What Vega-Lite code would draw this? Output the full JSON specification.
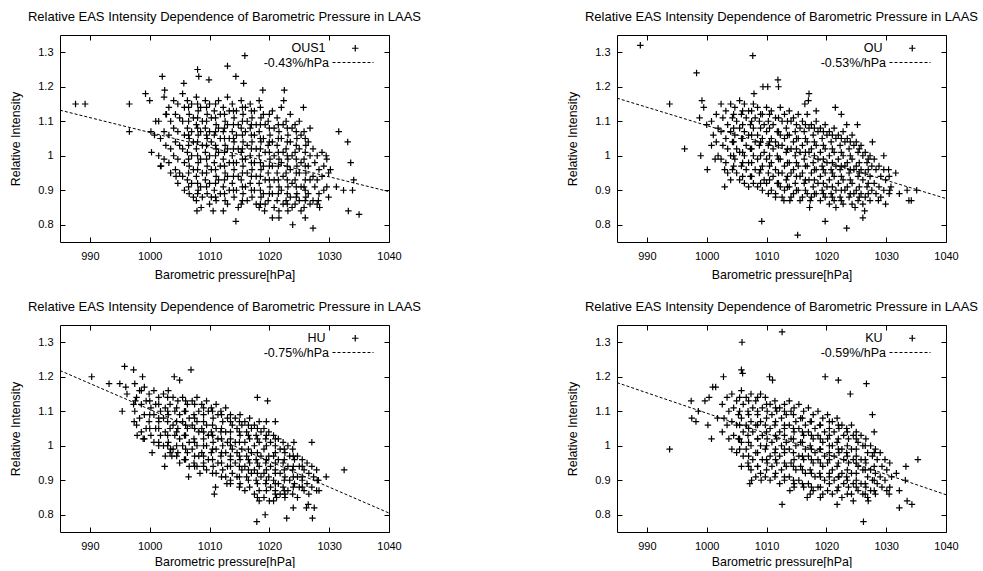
{
"$schema":"https://vega.github.io/schema/vega-lite/v6.json",
"padding":{"left":9,"top":10,"right":0,"bottom":0},
"background":"white",
"datasets":{
"f1":[{"x":985,"y":1.132},{"x":1040,"y":0.896}],
"f2":[{"x":985,"y":1.167},{"x":1040,"y":0.876}],
"f3":[{"x":985,"y":1.218},{"x":1040,"y":0.805}],
"f4":[{"x":985,"y":1.183},{"x":1040,"y":0.858}],
"d1":[{"x":987.6,"y":1.15},{"x":989.2,"y":1.15},{"x":996.6,"y":1.15},{"x":996.6,"y":1.07},{"x":999.3,"y":1.18},{"x":1000.0,"y":1.16},{"x":1002.1,"y":1.23},{"x":1000.3,"y":1.01},{"x":1001.9,"y":0.97},{"x":1002.5,"y":1.19},{"x":1004.4,"y":0.94},{"x":1005.7,"y":1.21},{"x":1008.0,"y":1.25},{"x":1008.2,"y":1.23},{"x":1009.9,"y":1.22},{"x":1013.0,"y":1.26},{"x":1014.4,"y":1.23},{"x":1015.9,"y":1.29},{"x":1015.7,"y":1.21},{"x":1018.9,"y":1.19},{"x":1022.5,"y":1.19},{"x":1022.4,"y":1.16},{"x":1025.7,"y":1.14},{"x":1026.8,"y":1.08},{"x":1031.6,"y":1.07},{"x":1033.1,"y":1.04},{"x":1033.6,"y":0.98},{"x":1034.1,"y":0.93},{"x":1033.2,"y":0.84},{"x":1035.0,"y":0.83},{"x":1032.4,"y":0.9},{"x":1031.2,"y":0.91},{"x":1033.9,"y":0.9},{"x":1030.2,"y":0.96},{"x":1029.5,"y":1.0},{"x":1027.3,"y":0.79},{"x":1023.9,"y":0.8},{"x":1014.4,"y":0.81},{"x":1007.9,"y":0.84},{"x":1008.6,"y":0.85},{"x":1010.6,"y":0.84},{"x":1012.3,"y":0.84},{"x":1019.2,"y":0.84},{"x":1020.5,"y":0.82},{"x":1021.6,"y":0.82},{"x":1026.0,"y":0.82},{"x":1028.2,"y":0.87},{"x":1028.4,"y":0.85},{"x":1001.0,"y":1.1},{"x":1000.8,"y":1.06},{"x":1000.2,"y":1.07},{"x":1002.8,"y":1.12},
{"x":1001.5,"y":1.1},{"x":1001.8,"y":1.05},{"x":1001.5,"y":1.0},{"x":1001.8,"y":0.97},
{"x":1002.4,"y":1.17},{"x":1002.7,"y":1.12},{"x":1002.4,"y":1.07},{"x":1002.7,"y":1.03},{"x":1002.4,"y":0.99},
{"x":1003.2,"y":1.14},{"x":1003.5,"y":1.1},{"x":1003.2,"y":1.06},{"x":1003.5,"y":1.02},{"x":1003.2,"y":0.98},{"x":1003.5,"y":0.95},
{"x":1004.0,"y":1.16},{"x":1004.3,"y":1.12},{"x":1004.0,"y":1.08},{"x":1004.3,"y":1.04},{"x":1004.0,"y":1.0},{"x":1004.3,"y":0.96},
{"x":1004.7,"y":1.15},{"x":1005.0,"y":1.11},{"x":1004.7,"y":1.07},{"x":1005.0,"y":1.03},{"x":1004.7,"y":0.99},{"x":1005.0,"y":0.95},{"x":1004.7,"y":0.92},
{"x":1005.5,"y":1.18},{"x":1005.8,"y":1.14},{"x":1005.5,"y":1.1},{"x":1005.8,"y":1.06},{"x":1005.5,"y":1.02},{"x":1005.8,"y":0.98},{"x":1005.5,"y":0.94},{"x":1005.8,"y":0.9},
{"x":1006.3,"y":1.16},{"x":1006.6,"y":1.12},{"x":1006.3,"y":1.08},{"x":1006.6,"y":1.05},{"x":1006.3,"y":1.01},{"x":1006.6,"y":0.97},{"x":1006.3,"y":0.93},{"x":1006.6,"y":0.89},
{"x":1007.0,"y":1.15},{"x":1007.3,"y":1.11},{"x":1007.0,"y":1.07},{"x":1007.3,"y":1.04},{"x":1007.0,"y":1.0},{"x":1007.3,"y":0.96},{"x":1007.0,"y":0.92},{"x":1007.3,"y":0.88},
{"x":1007.8,"y":1.17},{"x":1008.1,"y":1.13},{"x":1007.8,"y":1.09},{"x":1008.1,"y":1.06},{"x":1007.8,"y":1.02},{"x":1008.1,"y":0.98},{"x":1007.8,"y":0.94},{"x":1008.1,"y":0.9},{"x":1007.8,"y":0.87},
{"x":1008.5,"y":1.14},{"x":1008.8,"y":1.1},{"x":1008.5,"y":1.07},{"x":1008.8,"y":1.03},{"x":1008.5,"y":0.99},{"x":1008.8,"y":0.95},{"x":1008.5,"y":0.91},{"x":1008.8,"y":0.88},
{"x":1009.3,"y":1.16},{"x":1009.6,"y":1.12},{"x":1009.3,"y":1.08},{"x":1009.6,"y":1.05},{"x":1009.3,"y":1.01},{"x":1009.6,"y":0.97},{"x":1009.3,"y":0.93},{"x":1009.6,"y":0.89},
{"x":1010.0,"y":1.15},{"x":1010.3,"y":1.11},{"x":1010.0,"y":1.07},{"x":1010.3,"y":1.04},{"x":1010.0,"y":1.0},{"x":1010.3,"y":0.96},{"x":1010.0,"y":0.92},{"x":1010.3,"y":0.88},{"x":1010.0,"y":0.86},
{"x":1010.8,"y":1.13},{"x":1011.1,"y":1.09},{"x":1010.8,"y":1.06},{"x":1011.1,"y":1.02},{"x":1010.8,"y":0.98},{"x":1011.1,"y":0.94},{"x":1010.8,"y":0.9},{"x":1011.1,"y":0.87},
{"x":1011.5,"y":1.16},{"x":1011.8,"y":1.12},{"x":1011.5,"y":1.08},{"x":1011.8,"y":1.05},{"x":1011.5,"y":1.01},{"x":1011.8,"y":0.97},{"x":1011.5,"y":0.93},{"x":1011.8,"y":0.89},
{"x":1012.3,"y":1.14},{"x":1012.6,"y":1.1},{"x":1012.3,"y":1.07},{"x":1012.6,"y":1.03},{"x":1012.3,"y":0.99},{"x":1012.6,"y":0.95},{"x":1012.3,"y":0.91},{"x":1012.6,"y":0.87},
{"x":1013.0,"y":1.17},{"x":1013.3,"y":1.13},{"x":1013.0,"y":1.09},{"x":1013.3,"y":1.05},{"x":1013.0,"y":1.02},{"x":1013.3,"y":0.98},{"x":1013.0,"y":0.94},{"x":1013.3,"y":0.9},{"x":1013.0,"y":0.86},
{"x":1013.8,"y":1.15},{"x":1014.1,"y":1.11},{"x":1013.8,"y":1.07},{"x":1014.1,"y":1.04},{"x":1013.8,"y":1.0},{"x":1014.1,"y":0.96},{"x":1013.8,"y":0.92},{"x":1014.1,"y":0.88},
{"x":1014.5,"y":1.13},{"x":1014.8,"y":1.09},{"x":1014.5,"y":1.06},{"x":1014.8,"y":1.02},{"x":1014.5,"y":0.98},{"x":1014.8,"y":0.94},{"x":1014.5,"y":0.9},{"x":1014.8,"y":0.85},
{"x":1015.3,"y":1.16},{"x":1015.6,"y":1.12},{"x":1015.3,"y":1.08},{"x":1015.6,"y":1.04},{"x":1015.3,"y":1.01},{"x":1015.6,"y":0.97},{"x":1015.3,"y":0.93},{"x":1015.6,"y":0.89},{"x":1015.3,"y":0.86},
{"x":1016.0,"y":1.14},{"x":1016.3,"y":1.1},{"x":1016.0,"y":1.07},{"x":1016.3,"y":1.03},{"x":1016.0,"y":0.99},{"x":1016.3,"y":0.95},{"x":1016.0,"y":0.91},{"x":1016.3,"y":0.87},
{"x":1016.8,"y":1.15},{"x":1017.1,"y":1.11},{"x":1016.8,"y":1.08},{"x":1017.1,"y":1.04},{"x":1016.8,"y":1.0},{"x":1017.1,"y":0.96},{"x":1016.8,"y":0.92},{"x":1017.1,"y":0.88},
{"x":1017.5,"y":1.13},{"x":1017.8,"y":1.09},{"x":1017.5,"y":1.06},{"x":1017.8,"y":1.02},{"x":1017.5,"y":0.98},{"x":1017.8,"y":0.94},{"x":1017.5,"y":0.9},{"x":1017.8,"y":0.86},
{"x":1018.3,"y":1.16},{"x":1018.6,"y":1.11},{"x":1018.3,"y":1.07},{"x":1018.6,"y":1.04},{"x":1018.3,"y":1.0},{"x":1018.6,"y":0.96},{"x":1018.3,"y":0.92},{"x":1018.6,"y":0.88},{"x":1018.3,"y":0.85},
{"x":1019.0,"y":1.12},{"x":1019.3,"y":1.09},{"x":1019.0,"y":1.05},{"x":1019.3,"y":1.01},{"x":1019.0,"y":0.97},{"x":1019.3,"y":0.93},{"x":1019.0,"y":0.89},{"x":1019.3,"y":0.86},
{"x":1019.8,"y":1.1},{"x":1020.1,"y":1.06},{"x":1019.8,"y":1.03},{"x":1020.1,"y":0.99},{"x":1019.8,"y":0.95},{"x":1020.1,"y":0.91},{"x":1019.8,"y":0.87},
{"x":1020.5,"y":1.13},{"x":1020.8,"y":1.08},{"x":1020.5,"y":1.04},{"x":1020.8,"y":1.0},{"x":1020.5,"y":0.97},{"x":1020.8,"y":0.93},{"x":1020.5,"y":0.89},{"x":1020.8,"y":0.85},
{"x":1021.3,"y":1.11},{"x":1021.6,"y":1.07},{"x":1021.3,"y":1.03},{"x":1021.6,"y":0.99},{"x":1021.3,"y":0.95},{"x":1021.6,"y":0.91},{"x":1021.3,"y":0.87},{"x":1021.6,"y":0.84},
{"x":1022.0,"y":1.14},{"x":1022.3,"y":1.09},{"x":1022.0,"y":1.05},{"x":1022.3,"y":1.01},{"x":1022.0,"y":0.98},{"x":1022.3,"y":0.94},{"x":1022.0,"y":0.9},{"x":1022.3,"y":0.86},
{"x":1022.8,"y":1.1},{"x":1023.1,"y":1.06},{"x":1022.8,"y":1.02},{"x":1023.1,"y":0.99},{"x":1022.8,"y":0.95},{"x":1023.1,"y":0.91},{"x":1022.8,"y":0.87},{"x":1023.1,"y":0.84},
{"x":1023.5,"y":1.12},{"x":1023.8,"y":1.08},{"x":1023.5,"y":1.04},{"x":1023.8,"y":1.0},{"x":1023.5,"y":0.96},{"x":1023.8,"y":0.92},{"x":1023.5,"y":0.88},{"x":1023.8,"y":0.85},
{"x":1024.3,"y":1.09},{"x":1024.6,"y":1.05},{"x":1024.3,"y":1.01},{"x":1024.6,"y":0.97},{"x":1024.3,"y":0.93},{"x":1024.6,"y":0.89},{"x":1024.3,"y":0.86},
{"x":1025.0,"y":1.1},{"x":1025.3,"y":1.06},{"x":1025.0,"y":1.02},{"x":1025.3,"y":0.98},{"x":1025.0,"y":0.95},{"x":1025.3,"y":0.91},{"x":1025.0,"y":0.87},{"x":1025.3,"y":0.84},
{"x":1025.8,"y":1.07},{"x":1026.1,"y":1.03},{"x":1025.8,"y":0.99},{"x":1026.1,"y":0.95},{"x":1025.8,"y":0.91},{"x":1026.1,"y":0.88},{"x":1025.8,"y":0.85},
{"x":1026.5,"y":1.04},{"x":1026.8,"y":1.0},{"x":1026.5,"y":0.97},{"x":1026.8,"y":0.93},{"x":1026.5,"y":0.89},{"x":1026.8,"y":0.86},
{"x":1027.3,"y":1.02},{"x":1027.6,"y":0.98},{"x":1027.3,"y":0.94},{"x":1027.6,"y":0.91},{"x":1027.3,"y":0.87},
{"x":1028.0,"y":1.0},{"x":1028.3,"y":0.96},{"x":1028.0,"y":0.93},{"x":1028.3,"y":0.89},{"x":1028.0,"y":0.86},
{"x":1028.8,"y":1.01},{"x":1029.1,"y":0.97},{"x":1028.8,"y":0.94},{"x":1029.1,"y":0.9},
{"x":1029.6,"y":0.99},{"x":1029.9,"y":0.95},{"x":1029.6,"y":0.91},{"x":1029.9,"y":0.88},
{"x":1006.5,"y":1.14},{"x":1006.5,"y":1.1},{"x":1006.5,"y":1.06},{"x":1006.5,"y":1.03},{"x":1006.5,"y":0.99},{"x":1006.5,"y":0.95},{"x":1006.5,"y":0.91},
{"x":1008.0,"y":1.15},{"x":1008.0,"y":1.11},{"x":1008.0,"y":1.08},{"x":1008.0,"y":1.04},{"x":1008.0,"y":1.0},{"x":1008.0,"y":0.96},{"x":1008.0,"y":0.92},{"x":1008.0,"y":0.89},
{"x":1009.5,"y":1.14},{"x":1009.5,"y":1.1},{"x":1009.5,"y":1.06},{"x":1009.5,"y":1.03},{"x":1009.5,"y":0.99},{"x":1009.5,"y":0.95},{"x":1009.5,"y":0.91},
{"x":1011.0,"y":1.15},{"x":1011.0,"y":1.11},{"x":1011.0,"y":1.07},{"x":1011.0,"y":1.03},{"x":1011.0,"y":1.0},{"x":1011.0,"y":0.96},{"x":1011.0,"y":0.92},{"x":1011.0,"y":0.88},
{"x":1012.5,"y":1.12},{"x":1012.5,"y":1.08},{"x":1012.5,"y":1.05},{"x":1012.5,"y":1.01},{"x":1012.5,"y":0.97},{"x":1012.5,"y":0.93},{"x":1012.5,"y":0.89},
{"x":1014.0,"y":1.13},{"x":1014.0,"y":1.09},{"x":1014.0,"y":1.05},{"x":1014.0,"y":1.02},{"x":1014.0,"y":0.98},{"x":1014.0,"y":0.94},{"x":1014.0,"y":0.9},
{"x":1015.5,"y":1.14},{"x":1015.5,"y":1.1},{"x":1015.5,"y":1.06},{"x":1015.5,"y":1.02},{"x":1015.5,"y":0.99},{"x":1015.5,"y":0.95},{"x":1015.5,"y":0.91},{"x":1015.5,"y":0.87},
{"x":1017.0,"y":1.13},{"x":1017.0,"y":1.09},{"x":1017.0,"y":1.06},{"x":1017.0,"y":1.02},{"x":1017.0,"y":0.98},{"x":1017.0,"y":0.94},{"x":1017.0,"y":0.9},
{"x":1018.5,"y":1.14},{"x":1018.5,"y":1.09},{"x":1018.5,"y":1.05},{"x":1018.5,"y":1.02},{"x":1018.5,"y":0.98},{"x":1018.5,"y":0.94},{"x":1018.5,"y":0.9},{"x":1018.5,"y":0.86},
{"x":1020.0,"y":1.12},{"x":1020.0,"y":1.08},{"x":1020.0,"y":1.04},{"x":1020.0,"y":1.01},{"x":1020.0,"y":0.97},{"x":1020.0,"y":0.93},{"x":1020.0,"y":0.89},
{"x":1021.5,"y":1.09},{"x":1021.5,"y":1.05},{"x":1021.5,"y":1.01},{"x":1021.5,"y":0.97},{"x":1021.5,"y":0.93},{"x":1021.5,"y":0.89},
{"x":1023.0,"y":1.08},{"x":1023.0,"y":1.04},{"x":1023.0,"y":1.0},{"x":1023.0,"y":0.97},{"x":1023.0,"y":0.93},{"x":1023.0,"y":0.89},{"x":1023.0,"y":0.86},
{"x":1024.5,"y":1.07},{"x":1024.5,"y":1.03},{"x":1024.5,"y":0.99},{"x":1024.5,"y":0.95},{"x":1024.5,"y":0.91},{"x":1024.5,"y":0.88},
{"x":1026.0,"y":1.05},{"x":1026.0,"y":1.01},{"x":1026.0,"y":0.97},{"x":1026.0,"y":0.93},{"x":1026.0,"y":0.9},{"x":1026.0,"y":0.87}],
"d2":[{"x":988.9,"y":1.32},{"x":998.3,"y":1.24},{"x":993.8,"y":1.15},{"x":996.3,"y":1.02},{"x":999.0,"y":1.0},{"x":1000.1,"y":0.96},{"x":1003.0,"y":0.91},{"x":1003.0,"y":0.96},{"x":1001.4,"y":0.99},{"x":1007.7,"y":1.29},{"x":1009.4,"y":1.2},{"x":1010.2,"y":1.2},{"x":1011.9,"y":1.22},{"x":1012.0,"y":1.2},{"x":1007.9,"y":1.18},{"x":1009.2,"y":0.81},{"x":1015.2,"y":0.77},{"x":1019.8,"y":0.81},{"x":1023.4,"y":0.79},{"x":1026.1,"y":0.82},{"x":1026.4,"y":0.84},{"x":1029.9,"y":0.86},{"x":1033.8,"y":0.87},{"x":1034.2,"y":0.87},{"x":1032.2,"y":0.89},{"x":1033.5,"y":0.9},{"x":1035.1,"y":0.9},{"x":1031.6,"y":0.95},{"x":1030.4,"y":0.96},{"x":1029.6,"y":1.0},{"x":1027.7,"y":1.04},{"x":1025.2,"y":1.09},{"x":1023.4,"y":1.09},{"x":1021.5,"y":1.14},{"x":1022.5,"y":1.12},{"x":1017.1,"y":1.18},{"x":1016.4,"y":1.15},{"x":1017.0,"y":1.16},{"x":1018.3,"y":1.13},{"x":1012.9,"y":0.87},{"x":1013.9,"y":0.87},{"x":1017.2,"y":0.85},{"x":1017.3,"y":0.87},{"x":1021.6,"y":0.85},{"x":999.2,"y":1.16},{"x":999.5,"y":1.14},{"x":1000.0,"y":1.09},{"x":998.8,"y":1.11},{"x":1011.5,"y":0.88},{"x":1024.8,"y":0.85},{"x":1028.7,"y":0.87},{"x":1030.6,"y":0.9},
{"x":1000.8,"y":1.1},{"x":1001.1,"y":1.06},{"x":1000.8,"y":1.03},
{"x":1001.6,"y":1.12},{"x":1001.9,"y":1.08},{"x":1001.6,"y":1.04},{"x":1001.9,"y":1.0},
{"x":1002.4,"y":1.15},{"x":1002.7,"y":1.11},{"x":1002.4,"y":1.07},{"x":1002.7,"y":1.03},{"x":1002.4,"y":0.99},
{"x":1003.2,"y":1.13},{"x":1003.5,"y":1.09},{"x":1003.2,"y":1.05},{"x":1003.5,"y":1.02},{"x":1003.2,"y":0.98},{"x":1003.5,"y":0.95},
{"x":1004.0,"y":1.15},{"x":1004.3,"y":1.11},{"x":1004.0,"y":1.07},{"x":1004.3,"y":1.04},{"x":1004.0,"y":1.0},{"x":1004.3,"y":0.96},{"x":1004.0,"y":0.93},
{"x":1004.7,"y":1.14},{"x":1005.0,"y":1.1},{"x":1004.7,"y":1.06},{"x":1005.0,"y":1.02},{"x":1004.7,"y":0.99},{"x":1005.0,"y":0.95},
{"x":1005.5,"y":1.16},{"x":1005.8,"y":1.12},{"x":1005.5,"y":1.08},{"x":1005.8,"y":1.05},{"x":1005.5,"y":1.01},{"x":1005.8,"y":0.97},{"x":1005.5,"y":0.93},
{"x":1006.3,"y":1.15},{"x":1006.6,"y":1.11},{"x":1006.3,"y":1.07},{"x":1006.6,"y":1.03},{"x":1006.3,"y":1.0},{"x":1006.6,"y":0.96},{"x":1006.3,"y":0.92},
{"x":1007.0,"y":1.13},{"x":1007.3,"y":1.09},{"x":1007.0,"y":1.06},{"x":1007.3,"y":1.02},{"x":1007.0,"y":0.98},{"x":1007.3,"y":0.94},{"x":1007.0,"y":0.91},
{"x":1007.8,"y":1.15},{"x":1008.1,"y":1.11},{"x":1007.8,"y":1.08},{"x":1008.1,"y":1.04},{"x":1007.8,"y":1.0},{"x":1008.1,"y":0.96},{"x":1007.8,"y":0.92},
{"x":1008.5,"y":1.14},{"x":1008.8,"y":1.1},{"x":1008.5,"y":1.06},{"x":1008.8,"y":1.03},{"x":1008.5,"y":0.99},{"x":1008.8,"y":0.95},{"x":1008.5,"y":0.91},
{"x":1009.3,"y":1.12},{"x":1009.6,"y":1.09},{"x":1009.3,"y":1.05},{"x":1009.6,"y":1.01},{"x":1009.3,"y":0.97},{"x":1009.6,"y":0.93},{"x":1009.3,"y":0.9},
{"x":1010.0,"y":1.14},{"x":1010.3,"y":1.1},{"x":1010.0,"y":1.07},{"x":1010.3,"y":1.03},{"x":1010.0,"y":0.99},{"x":1010.3,"y":0.95},{"x":1010.0,"y":0.92},{"x":1010.3,"y":0.89},
{"x":1010.8,"y":1.13},{"x":1011.1,"y":1.09},{"x":1010.8,"y":1.05},{"x":1011.1,"y":1.02},{"x":1010.8,"y":0.98},{"x":1011.1,"y":0.94},{"x":1010.8,"y":0.9},
{"x":1011.5,"y":1.11},{"x":1011.8,"y":1.07},{"x":1011.5,"y":1.04},{"x":1011.8,"y":1.0},{"x":1011.5,"y":0.96},{"x":1011.8,"y":0.92},{"x":1011.5,"y":0.89},
{"x":1012.3,"y":1.14},{"x":1012.6,"y":1.1},{"x":1012.3,"y":1.06},{"x":1012.6,"y":1.03},{"x":1012.3,"y":0.99},{"x":1012.6,"y":0.95},{"x":1012.3,"y":0.91},{"x":1012.6,"y":0.88},
{"x":1013.0,"y":1.12},{"x":1013.3,"y":1.08},{"x":1013.0,"y":1.05},{"x":1013.3,"y":1.01},{"x":1013.0,"y":0.97},{"x":1013.3,"y":0.93},{"x":1013.0,"y":0.9},
{"x":1013.8,"y":1.13},{"x":1014.1,"y":1.1},{"x":1013.8,"y":1.06},{"x":1014.1,"y":1.02},{"x":1013.8,"y":0.98},{"x":1014.1,"y":0.95},{"x":1013.8,"y":0.91},{"x":1014.1,"y":0.88},
{"x":1014.5,"y":1.11},{"x":1014.8,"y":1.07},{"x":1014.5,"y":1.04},{"x":1014.8,"y":1.0},{"x":1014.5,"y":0.96},{"x":1014.8,"y":0.92},{"x":1014.5,"y":0.89},
{"x":1015.3,"y":1.12},{"x":1015.6,"y":1.08},{"x":1015.3,"y":1.05},{"x":1015.6,"y":1.01},{"x":1015.3,"y":0.97},{"x":1015.6,"y":0.94},{"x":1015.3,"y":0.9},{"x":1015.6,"y":0.87},
{"x":1016.0,"y":1.1},{"x":1016.3,"y":1.07},{"x":1016.0,"y":1.03},{"x":1016.3,"y":0.99},{"x":1016.0,"y":0.95},{"x":1016.3,"y":0.92},{"x":1016.0,"y":0.88},
{"x":1016.8,"y":1.12},{"x":1017.1,"y":1.08},{"x":1016.8,"y":1.04},{"x":1017.1,"y":1.01},{"x":1016.8,"y":0.97},{"x":1017.1,"y":0.93},{"x":1016.8,"y":0.89},
{"x":1017.5,"y":1.09},{"x":1017.8,"y":1.06},{"x":1017.5,"y":1.02},{"x":1017.8,"y":0.98},{"x":1017.5,"y":0.95},{"x":1017.8,"y":0.91},{"x":1017.5,"y":0.88},
{"x":1018.3,"y":1.1},{"x":1018.6,"y":1.07},{"x":1018.3,"y":1.03},{"x":1018.6,"y":0.99},{"x":1018.3,"y":0.96},{"x":1018.6,"y":0.92},{"x":1018.3,"y":0.89},
{"x":1019.0,"y":1.08},{"x":1019.3,"y":1.05},{"x":1019.0,"y":1.01},{"x":1019.3,"y":0.97},{"x":1019.0,"y":0.94},{"x":1019.3,"y":0.9},{"x":1019.0,"y":0.87},
{"x":1019.8,"y":1.09},{"x":1020.1,"y":1.06},{"x":1019.8,"y":1.02},{"x":1020.1,"y":0.98},{"x":1019.8,"y":0.95},{"x":1020.1,"y":0.91},{"x":1019.8,"y":0.88},
{"x":1020.5,"y":1.07},{"x":1020.8,"y":1.04},{"x":1020.5,"y":1.0},{"x":1020.8,"y":0.96},{"x":1020.5,"y":0.93},{"x":1020.8,"y":0.89},{"x":1020.5,"y":0.86},
{"x":1021.3,"y":1.08},{"x":1021.6,"y":1.05},{"x":1021.3,"y":1.01},{"x":1021.6,"y":0.97},{"x":1021.3,"y":0.94},{"x":1021.6,"y":0.9},{"x":1021.3,"y":0.87},
{"x":1022.0,"y":1.06},{"x":1022.3,"y":1.03},{"x":1022.0,"y":0.99},{"x":1022.3,"y":0.96},{"x":1022.0,"y":0.92},{"x":1022.3,"y":0.88},
{"x":1022.8,"y":1.07},{"x":1023.1,"y":1.04},{"x":1022.8,"y":1.0},{"x":1023.1,"y":0.97},{"x":1022.8,"y":0.93},{"x":1023.1,"y":0.9},{"x":1022.8,"y":0.86},
{"x":1023.5,"y":1.05},{"x":1023.8,"y":1.02},{"x":1023.5,"y":0.98},{"x":1023.8,"y":0.95},{"x":1023.5,"y":0.91},{"x":1023.8,"y":0.88},
{"x":1024.3,"y":1.06},{"x":1024.6,"y":1.03},{"x":1024.3,"y":0.99},{"x":1024.6,"y":0.96},{"x":1024.3,"y":0.92},{"x":1024.6,"y":0.89},{"x":1024.3,"y":0.86},
{"x":1025.0,"y":1.04},{"x":1025.3,"y":1.01},{"x":1025.0,"y":0.97},{"x":1025.3,"y":0.94},{"x":1025.0,"y":0.9},{"x":1025.3,"y":0.87},
{"x":1025.8,"y":1.03},{"x":1026.1,"y":1.0},{"x":1025.8,"y":0.96},{"x":1026.1,"y":0.93},{"x":1025.8,"y":0.89},{"x":1026.1,"y":0.86},
{"x":1026.5,"y":1.01},{"x":1026.8,"y":0.98},{"x":1026.5,"y":0.95},{"x":1026.8,"y":0.91},{"x":1026.5,"y":0.88},
{"x":1027.3,"y":1.0},{"x":1027.6,"y":0.97},{"x":1027.3,"y":0.94},{"x":1027.6,"y":0.9},{"x":1027.3,"y":0.87},
{"x":1028.0,"y":0.99},{"x":1028.3,"y":0.96},{"x":1028.0,"y":0.92},{"x":1028.3,"y":0.89},
{"x":1028.8,"y":0.97},{"x":1029.1,"y":0.94},{"x":1028.8,"y":0.91},{"x":1029.1,"y":0.88},
{"x":1029.6,"y":0.96},{"x":1029.9,"y":0.93},{"x":1029.6,"y":0.9},
{"x":1030.5,"y":0.94},{"x":1030.8,"y":0.91},{"x":1030.5,"y":0.89},
{"x":1004.5,"y":1.12},{"x":1004.5,"y":1.08},{"x":1004.5,"y":1.04},{"x":1004.5,"y":1.0},{"x":1004.5,"y":0.97},
{"x":1006.0,"y":1.13},{"x":1006.0,"y":1.09},{"x":1006.0,"y":1.05},{"x":1006.0,"y":1.01},{"x":1006.0,"y":0.98},{"x":1006.0,"y":0.94},
{"x":1007.5,"y":1.13},{"x":1007.5,"y":1.1},{"x":1007.5,"y":1.06},{"x":1007.5,"y":1.02},{"x":1007.5,"y":0.98},{"x":1007.5,"y":0.94},
{"x":1009.0,"y":1.12},{"x":1009.0,"y":1.08},{"x":1009.0,"y":1.04},{"x":1009.0,"y":1.0},{"x":1009.0,"y":0.96},{"x":1009.0,"y":0.92},
{"x":1010.5,"y":1.12},{"x":1010.5,"y":1.08},{"x":1010.5,"y":1.04},{"x":1010.5,"y":1.0},{"x":1010.5,"y":0.97},{"x":1010.5,"y":0.93},
{"x":1012.0,"y":1.11},{"x":1012.0,"y":1.07},{"x":1012.0,"y":1.03},{"x":1012.0,"y":0.99},{"x":1012.0,"y":0.95},{"x":1012.0,"y":0.92},
{"x":1013.5,"y":1.1},{"x":1013.5,"y":1.06},{"x":1013.5,"y":1.02},{"x":1013.5,"y":0.98},{"x":1013.5,"y":0.94},{"x":1013.5,"y":0.91},
{"x":1015.0,"y":1.09},{"x":1015.0,"y":1.05},{"x":1015.0,"y":1.02},{"x":1015.0,"y":0.98},{"x":1015.0,"y":0.94},{"x":1015.0,"y":0.9},
{"x":1016.5,"y":1.09},{"x":1016.5,"y":1.05},{"x":1016.5,"y":1.01},{"x":1016.5,"y":0.97},{"x":1016.5,"y":0.93},{"x":1016.5,"y":0.9},
{"x":1018.0,"y":1.08},{"x":1018.0,"y":1.04},{"x":1018.0,"y":1.0},{"x":1018.0,"y":0.96},{"x":1018.0,"y":0.93},{"x":1018.0,"y":0.89},
{"x":1019.5,"y":1.07},{"x":1019.5,"y":1.03},{"x":1019.5,"y":0.99},{"x":1019.5,"y":0.96},{"x":1019.5,"y":0.92},{"x":1019.5,"y":0.89},
{"x":1021.0,"y":1.06},{"x":1021.0,"y":1.02},{"x":1021.0,"y":0.98},{"x":1021.0,"y":0.95},{"x":1021.0,"y":0.91},{"x":1021.0,"y":0.88},
{"x":1022.5,"y":1.05},{"x":1022.5,"y":1.01},{"x":1022.5,"y":0.97},{"x":1022.5,"y":0.94},{"x":1022.5,"y":0.9},{"x":1022.5,"y":0.87},
{"x":1024.0,"y":1.04},{"x":1024.0,"y":1.0},{"x":1024.0,"y":0.96},{"x":1024.0,"y":0.93},{"x":1024.0,"y":0.89},
{"x":1025.5,"y":1.02},{"x":1025.5,"y":0.98},{"x":1025.5,"y":0.95},{"x":1025.5,"y":0.91},{"x":1025.5,"y":0.88},
{"x":1027.0,"y":0.99},{"x":1027.0,"y":0.96},{"x":1027.0,"y":0.92},{"x":1027.0,"y":0.89}],
"d3":[{"x":990.3,"y":1.2},{"x":993.2,"y":1.18},{"x":995.8,"y":1.23},{"x":995.4,"y":1.1},{"x":997.3,"y":1.22},{"x":995.0,"y":1.18},{"x":996.0,"y":1.17},{"x":996.2,"y":1.15},{"x":997.3,"y":1.12},{"x":997.6,"y":1.13},{"x":998.8,"y":1.2},{"x":998.6,"y":1.16},{"x":997.9,"y":1.03},{"x":998.9,"y":1.02},{"x":997.4,"y":1.07},{"x":1000.4,"y":0.98},{"x":1002.5,"y":0.94},{"x":1006.5,"y":0.91},{"x":1006.9,"y":1.22},{"x":1004.1,"y":1.2},{"x":1005.0,"y":1.19},{"x":1017.9,"y":0.78},{"x":1019.3,"y":0.8},{"x":1022.9,"y":0.79},{"x":1027.2,"y":0.79},{"x":1027.5,"y":0.82},{"x":1026.2,"y":0.82},{"x":1026.5,"y":0.83},{"x":1032.5,"y":0.93},{"x":1029.5,"y":0.91},{"x":1028.3,"y":0.87},{"x":1028.0,"y":0.9},{"x":1027.1,"y":1.01},{"x":1024.1,"y":1.01},{"x":1018.0,"y":1.14},{"x":1019.7,"y":1.13},{"x":1021.0,"y":1.07},{"x":1019.5,"y":1.07},{"x":1018.3,"y":0.84},{"x":1020.0,"y":0.84},{"x":1021.2,"y":0.85},{"x":1022.6,"y":0.86},{"x":1024.0,"y":0.82},{"x":1011.0,"y":0.88},{"x":1010.8,"y":0.86},{"x":1012.9,"y":0.89},{"x":1008.4,"y":0.92},{"x":1003.5,"y":0.99},{"x":1003.7,"y":0.97},
{"x":997.5,"y":1.18},{"x":997.8,"y":1.14},{"x":997.5,"y":1.1},{"x":997.8,"y":1.06},
{"x":998.3,"y":1.16},{"x":998.6,"y":1.12},{"x":998.3,"y":1.08},{"x":998.6,"y":1.04},
{"x":999.1,"y":1.17},{"x":999.4,"y":1.13},{"x":999.1,"y":1.09},{"x":999.4,"y":1.05},{"x":999.1,"y":1.02},
{"x":999.9,"y":1.15},{"x":1000.2,"y":1.11},{"x":999.9,"y":1.07},{"x":1000.2,"y":1.03},
{"x":1000.7,"y":1.16},{"x":1001.0,"y":1.12},{"x":1000.7,"y":1.09},{"x":1001.0,"y":1.05},{"x":1000.7,"y":1.01},
{"x":1001.5,"y":1.14},{"x":1001.8,"y":1.1},{"x":1001.5,"y":1.07},{"x":1001.8,"y":1.03},{"x":1001.5,"y":1.0},
{"x":1002.3,"y":1.15},{"x":1002.6,"y":1.11},{"x":1002.3,"y":1.08},{"x":1002.6,"y":1.04},{"x":1002.3,"y":1.0},{"x":1002.6,"y":0.97},
{"x":1003.1,"y":1.16},{"x":1003.4,"y":1.12},{"x":1003.1,"y":1.09},{"x":1003.4,"y":1.05},{"x":1003.1,"y":1.01},{"x":1003.4,"y":0.98},
{"x":1003.9,"y":1.14},{"x":1004.2,"y":1.1},{"x":1003.9,"y":1.06},{"x":1004.2,"y":1.03},{"x":1003.9,"y":0.99},
{"x":1004.7,"y":1.13},{"x":1005.0,"y":1.09},{"x":1004.7,"y":1.05},{"x":1005.0,"y":1.02},{"x":1004.7,"y":0.98},{"x":1005.0,"y":0.95},
{"x":1005.5,"y":1.14},{"x":1005.8,"y":1.1},{"x":1005.5,"y":1.07},{"x":1005.8,"y":1.03},{"x":1005.5,"y":1.0},{"x":1005.8,"y":0.96},
{"x":1006.3,"y":1.12},{"x":1006.6,"y":1.08},{"x":1006.3,"y":1.05},{"x":1006.6,"y":1.01},{"x":1006.3,"y":0.98},{"x":1006.6,"y":0.94},
{"x":1007.1,"y":1.13},{"x":1007.4,"y":1.09},{"x":1007.1,"y":1.06},{"x":1007.4,"y":1.02},{"x":1007.1,"y":0.99},{"x":1007.4,"y":0.95},
{"x":1007.9,"y":1.14},{"x":1008.2,"y":1.1},{"x":1007.9,"y":1.07},{"x":1008.2,"y":1.04},{"x":1007.9,"y":1.0},{"x":1008.2,"y":0.97},{"x":1007.9,"y":0.94},
{"x":1008.7,"y":1.12},{"x":1009.0,"y":1.09},{"x":1008.7,"y":1.05},{"x":1009.0,"y":1.02},{"x":1008.7,"y":0.98},{"x":1009.0,"y":0.95},
{"x":1009.5,"y":1.13},{"x":1009.8,"y":1.1},{"x":1009.5,"y":1.06},{"x":1009.8,"y":1.03},{"x":1009.5,"y":1.0},{"x":1009.8,"y":0.96},{"x":1009.5,"y":0.93},
{"x":1010.3,"y":1.11},{"x":1010.6,"y":1.08},{"x":1010.3,"y":1.04},{"x":1010.6,"y":1.01},{"x":1010.3,"y":0.98},{"x":1010.6,"y":0.94},
{"x":1011.1,"y":1.12},{"x":1011.4,"y":1.09},{"x":1011.1,"y":1.05},{"x":1011.4,"y":1.02},{"x":1011.1,"y":0.99},{"x":1011.4,"y":0.95},{"x":1011.1,"y":0.92},
{"x":1011.9,"y":1.1},{"x":1012.2,"y":1.07},{"x":1011.9,"y":1.04},{"x":1012.2,"y":1.0},{"x":1011.9,"y":0.97},{"x":1012.2,"y":0.93},
{"x":1012.7,"y":1.11},{"x":1013.0,"y":1.08},{"x":1012.7,"y":1.04},{"x":1013.0,"y":1.01},{"x":1012.7,"y":0.98},{"x":1013.0,"y":0.94},{"x":1012.7,"y":0.91},
{"x":1013.5,"y":1.09},{"x":1013.8,"y":1.06},{"x":1013.5,"y":1.02},{"x":1013.8,"y":0.99},{"x":1013.5,"y":0.96},{"x":1013.8,"y":0.92},{"x":1013.5,"y":0.89},
{"x":1014.3,"y":1.08},{"x":1014.6,"y":1.05},{"x":1014.3,"y":1.01},{"x":1014.6,"y":0.98},{"x":1014.3,"y":0.95},{"x":1014.6,"y":0.91},
{"x":1015.1,"y":1.09},{"x":1015.4,"y":1.06},{"x":1015.1,"y":1.03},{"x":1015.4,"y":0.99},{"x":1015.1,"y":0.96},{"x":1015.4,"y":0.93},{"x":1015.1,"y":0.89},
{"x":1015.9,"y":1.07},{"x":1016.2,"y":1.04},{"x":1015.9,"y":1.01},{"x":1016.2,"y":0.97},{"x":1015.9,"y":0.94},{"x":1016.2,"y":0.91},{"x":1015.9,"y":0.87},
{"x":1016.7,"y":1.08},{"x":1017.0,"y":1.05},{"x":1016.7,"y":1.02},{"x":1017.0,"y":0.98},{"x":1016.7,"y":0.95},{"x":1017.0,"y":0.92},{"x":1016.7,"y":0.88},
{"x":1017.5,"y":1.06},{"x":1017.8,"y":1.03},{"x":1017.5,"y":1.0},{"x":1017.8,"y":0.96},{"x":1017.5,"y":0.93},{"x":1017.8,"y":0.9},{"x":1017.5,"y":0.86},
{"x":1018.3,"y":1.07},{"x":1018.6,"y":1.04},{"x":1018.3,"y":1.01},{"x":1018.6,"y":0.97},{"x":1018.3,"y":0.94},{"x":1018.6,"y":0.91},{"x":1018.3,"y":0.87},
{"x":1019.1,"y":1.05},{"x":1019.4,"y":1.02},{"x":1019.1,"y":0.99},{"x":1019.4,"y":0.95},{"x":1019.1,"y":0.92},{"x":1019.4,"y":0.89},{"x":1019.1,"y":0.85},
{"x":1019.9,"y":1.04},{"x":1020.2,"y":1.01},{"x":1019.9,"y":0.97},{"x":1020.2,"y":0.94},{"x":1019.9,"y":0.91},{"x":1020.2,"y":0.88},
{"x":1020.7,"y":1.03},{"x":1021.0,"y":1.0},{"x":1020.7,"y":0.97},{"x":1021.0,"y":0.93},{"x":1020.7,"y":0.9},{"x":1021.0,"y":0.87},{"x":1020.7,"y":0.84},
{"x":1021.5,"y":1.02},{"x":1021.8,"y":0.99},{"x":1021.5,"y":0.96},{"x":1021.8,"y":0.92},{"x":1021.5,"y":0.89},{"x":1021.8,"y":0.86},
{"x":1022.3,"y":1.01},{"x":1022.6,"y":0.98},{"x":1022.3,"y":0.95},{"x":1022.6,"y":0.91},{"x":1022.3,"y":0.88},{"x":1022.6,"y":0.85},
{"x":1023.1,"y":1.0},{"x":1023.4,"y":0.97},{"x":1023.1,"y":0.94},{"x":1023.4,"y":0.9},{"x":1023.1,"y":0.87},
{"x":1023.9,"y":0.99},{"x":1024.2,"y":0.96},{"x":1023.9,"y":0.93},{"x":1024.2,"y":0.89},{"x":1023.9,"y":0.86},
{"x":1024.7,"y":0.97},{"x":1025.0,"y":0.94},{"x":1024.7,"y":0.91},{"x":1025.0,"y":0.88},{"x":1024.7,"y":0.85},
{"x":1025.5,"y":0.96},{"x":1025.8,"y":0.93},{"x":1025.5,"y":0.9},{"x":1025.8,"y":0.87},
{"x":1026.3,"y":0.95},{"x":1026.6,"y":0.92},{"x":1026.3,"y":0.89},{"x":1026.6,"y":0.86},
{"x":1027.1,"y":0.94},{"x":1027.4,"y":0.91},{"x":1027.1,"y":0.88},
{"x":1027.9,"y":0.93},{"x":1028.2,"y":0.9},{"x":1027.9,"y":0.87},
{"x":1000.0,"y":1.13},{"x":1000.0,"y":1.09},{"x":1000.0,"y":1.05},
{"x":1001.5,"y":1.12},{"x":1001.5,"y":1.08},{"x":1001.5,"y":1.05},{"x":1001.5,"y":1.01},
{"x":1003.0,"y":1.14},{"x":1003.0,"y":1.1},{"x":1003.0,"y":1.07},{"x":1003.0,"y":1.03},{"x":1003.0,"y":1.0},
{"x":1004.5,"y":1.11},{"x":1004.5,"y":1.07},{"x":1004.5,"y":1.04},{"x":1004.5,"y":1.0},{"x":1004.5,"y":0.97},
{"x":1006.0,"y":1.13},{"x":1006.0,"y":1.1},{"x":1006.0,"y":1.06},{"x":1006.0,"y":1.03},{"x":1006.0,"y":0.99},{"x":1006.0,"y":0.96},
{"x":1007.5,"y":1.12},{"x":1007.5,"y":1.08},{"x":1007.5,"y":1.05},{"x":1007.5,"y":1.01},{"x":1007.5,"y":0.97},{"x":1007.5,"y":0.94},
{"x":1009.0,"y":1.11},{"x":1009.0,"y":1.07},{"x":1009.0,"y":1.04},{"x":1009.0,"y":1.0},{"x":1009.0,"y":0.97},{"x":1009.0,"y":0.94},
{"x":1010.5,"y":1.1},{"x":1010.5,"y":1.06},{"x":1010.5,"y":1.03},{"x":1010.5,"y":0.99},{"x":1010.5,"y":0.96},{"x":1010.5,"y":0.92},
{"x":1012.0,"y":1.09},{"x":1012.0,"y":1.05},{"x":1012.0,"y":1.02},{"x":1012.0,"y":0.98},{"x":1012.0,"y":0.95},{"x":1012.0,"y":0.91},
{"x":1013.5,"y":1.07},{"x":1013.5,"y":1.04},{"x":1013.5,"y":1.0},{"x":1013.5,"y":0.97},{"x":1013.5,"y":0.94},{"x":1013.5,"y":0.9},
{"x":1015.0,"y":1.07},{"x":1015.0,"y":1.04},{"x":1015.0,"y":1.01},{"x":1015.0,"y":0.97},{"x":1015.0,"y":0.94},{"x":1015.0,"y":0.91},{"x":1015.0,"y":0.88},
{"x":1016.5,"y":1.06},{"x":1016.5,"y":1.03},{"x":1016.5,"y":0.99},{"x":1016.5,"y":0.96},{"x":1016.5,"y":0.93},{"x":1016.5,"y":0.9},
{"x":1018.0,"y":1.05},{"x":1018.0,"y":1.02},{"x":1018.0,"y":0.98},{"x":1018.0,"y":0.95},{"x":1018.0,"y":0.92},{"x":1018.0,"y":0.89},{"x":1018.0,"y":0.85},
{"x":1019.5,"y":1.03},{"x":1019.5,"y":1.0},{"x":1019.5,"y":0.96},{"x":1019.5,"y":0.93},{"x":1019.5,"y":0.9},{"x":1019.5,"y":0.87},
{"x":1021.0,"y":1.02},{"x":1021.0,"y":0.98},{"x":1021.0,"y":0.95},{"x":1021.0,"y":0.92},{"x":1021.0,"y":0.89},{"x":1021.0,"y":0.86},
{"x":1022.5,"y":0.99},{"x":1022.5,"y":0.96},{"x":1022.5,"y":0.93},{"x":1022.5,"y":0.9},{"x":1022.5,"y":0.87},
{"x":1024.0,"y":0.97},{"x":1024.0,"y":0.94},{"x":1024.0,"y":0.91},{"x":1024.0,"y":0.88},
{"x":1025.5,"y":0.94},{"x":1025.5,"y":0.91},{"x":1025.5,"y":0.88}],
"d4":[{"x":993.8,"y":0.99},{"x":997.4,"y":1.13},{"x":997.5,"y":1.08},{"x":998.2,"y":1.07},{"x":998.6,"y":1.1},{"x":999.7,"y":1.13},{"x":1000.2,"y":1.06},{"x":1000.4,"y":1.14},{"x":1001.0,"y":1.17},{"x":1001.5,"y":1.17},{"x":1002.8,"y":1.2},{"x":1005.9,"y":1.3},{"x":1005.8,"y":1.22},{"x":1006.0,"y":1.21},{"x":1012.6,"y":1.33},{"x":1010.5,"y":1.2},{"x":1011.0,"y":1.19},{"x":1019.8,"y":1.2},{"x":1022.0,"y":1.19},{"x":1026.7,"y":1.18},{"x":1024.0,"y":1.15},{"x":1027.7,"y":1.09},{"x":1028.0,"y":1.04},{"x":1033.3,"y":0.94},{"x":1035.3,"y":0.96},{"x":1031.7,"y":0.92},{"x":1032.2,"y":0.87},{"x":1032.2,"y":0.82},{"x":1033.5,"y":0.84},{"x":1034.3,"y":0.83},{"x":1026.2,"y":0.78},{"x":1012.6,"y":0.83},{"x":1007.5,"y":0.9},{"x":1007.2,"y":0.89},{"x":1009.1,"y":0.9},{"x":1033.2,"y":0.9},{"x":1030.5,"y":0.86},{"x":1001.8,"y":1.08},{"x":1000.8,"y":1.02},{"x":1014.6,"y":0.88},{"x":1016.8,"y":0.85},{"x":1019.0,"y":0.85},{"x":1021.8,"y":0.83},{"x":1024.5,"y":0.84},{"x":1027.0,"y":0.84},{"x":1013.9,"y":0.87},
{"x":1002.6,"y":1.12},{"x":1002.9,"y":1.08},{"x":1002.6,"y":1.04},
{"x":1003.4,"y":1.14},{"x":1003.7,"y":1.1},{"x":1003.4,"y":1.06},{"x":1003.7,"y":1.02},
{"x":1004.2,"y":1.15},{"x":1004.5,"y":1.11},{"x":1004.2,"y":1.07},{"x":1004.5,"y":1.03},{"x":1004.2,"y":0.99},
{"x":1005.0,"y":1.13},{"x":1005.3,"y":1.09},{"x":1005.0,"y":1.06},{"x":1005.3,"y":1.02},{"x":1005.0,"y":0.98},
{"x":1005.8,"y":1.16},{"x":1006.1,"y":1.12},{"x":1005.8,"y":1.08},{"x":1006.1,"y":1.04},{"x":1005.8,"y":1.01},{"x":1006.1,"y":0.97},{"x":1005.8,"y":0.94},
{"x":1006.6,"y":1.14},{"x":1006.9,"y":1.1},{"x":1006.6,"y":1.06},{"x":1006.9,"y":1.03},{"x":1006.6,"y":0.99},{"x":1006.9,"y":0.95},
{"x":1007.4,"y":1.15},{"x":1007.7,"y":1.11},{"x":1007.4,"y":1.07},{"x":1007.7,"y":1.04},{"x":1007.4,"y":1.0},{"x":1007.7,"y":0.96},{"x":1007.4,"y":0.93},
{"x":1008.2,"y":1.13},{"x":1008.5,"y":1.09},{"x":1008.2,"y":1.06},{"x":1008.5,"y":1.02},{"x":1008.2,"y":0.98},{"x":1008.5,"y":0.94},{"x":1008.2,"y":0.91},
{"x":1009.0,"y":1.15},{"x":1009.3,"y":1.11},{"x":1009.0,"y":1.07},{"x":1009.3,"y":1.03},{"x":1009.0,"y":1.0},{"x":1009.3,"y":0.96},{"x":1009.0,"y":0.92},
{"x":1009.8,"y":1.14},{"x":1010.1,"y":1.1},{"x":1009.8,"y":1.06},{"x":1010.1,"y":1.02},{"x":1009.8,"y":0.99},{"x":1010.1,"y":0.95},{"x":1009.8,"y":0.91},
{"x":1010.6,"y":1.12},{"x":1010.9,"y":1.09},{"x":1010.6,"y":1.05},{"x":1010.9,"y":1.01},{"x":1010.6,"y":0.97},{"x":1010.9,"y":0.94},{"x":1010.6,"y":0.9},
{"x":1011.4,"y":1.13},{"x":1011.7,"y":1.1},{"x":1011.4,"y":1.06},{"x":1011.7,"y":1.02},{"x":1011.4,"y":0.98},{"x":1011.7,"y":0.95},{"x":1011.4,"y":0.91},
{"x":1012.2,"y":1.11},{"x":1012.5,"y":1.08},{"x":1012.2,"y":1.04},{"x":1012.5,"y":1.0},{"x":1012.2,"y":0.97},{"x":1012.5,"y":0.93},{"x":1012.2,"y":0.89},
{"x":1013.0,"y":1.12},{"x":1013.3,"y":1.09},{"x":1013.0,"y":1.05},{"x":1013.3,"y":1.01},{"x":1013.0,"y":0.98},{"x":1013.3,"y":0.94},{"x":1013.0,"y":0.9},
{"x":1013.8,"y":1.13},{"x":1014.1,"y":1.1},{"x":1013.8,"y":1.06},{"x":1014.1,"y":1.02},{"x":1013.8,"y":0.99},{"x":1014.1,"y":0.95},{"x":1013.8,"y":0.91},
{"x":1014.6,"y":1.11},{"x":1014.9,"y":1.07},{"x":1014.6,"y":1.04},{"x":1014.9,"y":1.0},{"x":1014.6,"y":0.96},{"x":1014.9,"y":0.93},{"x":1014.6,"y":0.89},
{"x":1015.4,"y":1.12},{"x":1015.7,"y":1.08},{"x":1015.4,"y":1.05},{"x":1015.7,"y":1.01},{"x":1015.4,"y":0.97},{"x":1015.7,"y":0.94},{"x":1015.4,"y":0.9},
{"x":1016.2,"y":1.1},{"x":1016.5,"y":1.06},{"x":1016.2,"y":1.03},{"x":1016.5,"y":0.99},{"x":1016.2,"y":0.96},{"x":1016.5,"y":0.92},{"x":1016.2,"y":0.88},
{"x":1017.0,"y":1.11},{"x":1017.3,"y":1.07},{"x":1017.0,"y":1.04},{"x":1017.3,"y":1.0},{"x":1017.0,"y":0.97},{"x":1017.3,"y":0.93},{"x":1017.0,"y":0.89},{"x":1017.3,"y":0.86},
{"x":1017.8,"y":1.09},{"x":1018.1,"y":1.05},{"x":1017.8,"y":1.02},{"x":1018.1,"y":0.98},{"x":1017.8,"y":0.95},{"x":1018.1,"y":0.91},{"x":1017.8,"y":0.87},
{"x":1018.6,"y":1.1},{"x":1018.9,"y":1.06},{"x":1018.6,"y":1.03},{"x":1018.9,"y":0.99},{"x":1018.6,"y":0.96},{"x":1018.9,"y":0.92},{"x":1018.6,"y":0.88},
{"x":1019.4,"y":1.08},{"x":1019.7,"y":1.04},{"x":1019.4,"y":1.01},{"x":1019.7,"y":0.97},{"x":1019.4,"y":0.94},{"x":1019.7,"y":0.9},{"x":1019.4,"y":0.86},
{"x":1020.2,"y":1.09},{"x":1020.5,"y":1.05},{"x":1020.2,"y":1.02},{"x":1020.5,"y":0.98},{"x":1020.2,"y":0.95},{"x":1020.5,"y":0.91},{"x":1020.2,"y":0.87},
{"x":1021.0,"y":1.07},{"x":1021.3,"y":1.04},{"x":1021.0,"y":1.0},{"x":1021.3,"y":0.97},{"x":1021.0,"y":0.93},{"x":1021.3,"y":0.9},{"x":1021.0,"y":0.86},
{"x":1021.8,"y":1.08},{"x":1022.1,"y":1.05},{"x":1021.8,"y":1.01},{"x":1022.1,"y":0.98},{"x":1021.8,"y":0.94},{"x":1022.1,"y":0.91},{"x":1021.8,"y":0.87},
{"x":1022.6,"y":1.06},{"x":1022.9,"y":1.03},{"x":1022.6,"y":0.99},{"x":1022.9,"y":0.96},{"x":1022.6,"y":0.92},{"x":1022.9,"y":0.89},{"x":1022.6,"y":0.85},
{"x":1023.4,"y":1.05},{"x":1023.7,"y":1.02},{"x":1023.4,"y":0.98},{"x":1023.7,"y":0.95},{"x":1023.4,"y":0.91},{"x":1023.7,"y":0.88},
{"x":1024.2,"y":1.06},{"x":1024.5,"y":1.03},{"x":1024.2,"y":0.99},{"x":1024.5,"y":0.96},{"x":1024.2,"y":0.92},{"x":1024.5,"y":0.89},{"x":1024.2,"y":0.86},
{"x":1025.0,"y":1.04},{"x":1025.3,"y":1.01},{"x":1025.0,"y":0.97},{"x":1025.3,"y":0.94},{"x":1025.0,"y":0.9},{"x":1025.3,"y":0.87},
{"x":1025.8,"y":1.03},{"x":1026.1,"y":1.0},{"x":1025.8,"y":0.96},{"x":1026.1,"y":0.93},{"x":1025.8,"y":0.89},{"x":1026.1,"y":0.86},
{"x":1026.6,"y":1.02},{"x":1026.9,"y":0.98},{"x":1026.6,"y":0.95},{"x":1026.9,"y":0.91},{"x":1026.6,"y":0.88},{"x":1026.9,"y":0.85},
{"x":1027.4,"y":1.0},{"x":1027.7,"y":0.97},{"x":1027.4,"y":0.93},{"x":1027.7,"y":0.9},{"x":1027.4,"y":0.87},
{"x":1028.2,"y":0.99},{"x":1028.5,"y":0.96},{"x":1028.2,"y":0.92},{"x":1028.5,"y":0.89},{"x":1028.2,"y":0.86},
{"x":1029.0,"y":0.98},{"x":1029.3,"y":0.94},{"x":1029.0,"y":0.91},{"x":1029.3,"y":0.88},
{"x":1029.8,"y":0.96},{"x":1030.1,"y":0.93},{"x":1029.8,"y":0.9},{"x":1030.1,"y":0.87},
{"x":1030.6,"y":0.95},{"x":1030.9,"y":0.91},{"x":1030.6,"y":0.88},
{"x":1005.5,"y":1.14},{"x":1005.5,"y":1.1},{"x":1005.5,"y":1.06},{"x":1005.5,"y":1.02},{"x":1005.5,"y":0.99},
{"x":1007.0,"y":1.13},{"x":1007.0,"y":1.09},{"x":1007.0,"y":1.05},{"x":1007.0,"y":1.01},{"x":1007.0,"y":0.97},{"x":1007.0,"y":0.94},
{"x":1008.5,"y":1.14},{"x":1008.5,"y":1.1},{"x":1008.5,"y":1.06},{"x":1008.5,"y":1.02},{"x":1008.5,"y":0.98},{"x":1008.5,"y":0.94},
{"x":1010.0,"y":1.12},{"x":1010.0,"y":1.08},{"x":1010.0,"y":1.04},{"x":1010.0,"y":1.0},{"x":1010.0,"y":0.96},{"x":1010.0,"y":0.93},
{"x":1011.5,"y":1.11},{"x":1011.5,"y":1.07},{"x":1011.5,"y":1.03},{"x":1011.5,"y":0.99},{"x":1011.5,"y":0.96},{"x":1011.5,"y":0.92},
{"x":1013.0,"y":1.1},{"x":1013.0,"y":1.06},{"x":1013.0,"y":1.03},{"x":1013.0,"y":0.99},{"x":1013.0,"y":0.95},{"x":1013.0,"y":0.91},
{"x":1014.5,"y":1.09},{"x":1014.5,"y":1.05},{"x":1014.5,"y":1.02},{"x":1014.5,"y":0.98},{"x":1014.5,"y":0.94},{"x":1014.5,"y":0.9},
{"x":1016.0,"y":1.08},{"x":1016.0,"y":1.04},{"x":1016.0,"y":1.01},{"x":1016.0,"y":0.97},{"x":1016.0,"y":0.93},{"x":1016.0,"y":0.89},
{"x":1017.5,"y":1.07},{"x":1017.5,"y":1.03},{"x":1017.5,"y":0.99},{"x":1017.5,"y":0.96},{"x":1017.5,"y":0.92},{"x":1017.5,"y":0.88},
{"x":1019.0,"y":1.06},{"x":1019.0,"y":1.02},{"x":1019.0,"y":0.99},{"x":1019.0,"y":0.95},{"x":1019.0,"y":0.91},{"x":1019.0,"y":0.88},
{"x":1020.5,"y":1.07},{"x":1020.5,"y":1.03},{"x":1020.5,"y":1.0},{"x":1020.5,"y":0.96},{"x":1020.5,"y":0.92},{"x":1020.5,"y":0.89},
{"x":1022.0,"y":1.06},{"x":1022.0,"y":1.02},{"x":1022.0,"y":0.99},{"x":1022.0,"y":0.95},{"x":1022.0,"y":0.91},{"x":1022.0,"y":0.88},
{"x":1023.5,"y":1.04},{"x":1023.5,"y":1.0},{"x":1023.5,"y":0.97},{"x":1023.5,"y":0.93},{"x":1023.5,"y":0.9},{"x":1023.5,"y":0.86},
{"x":1025.0,"y":1.02},{"x":1025.0,"y":0.99},{"x":1025.0,"y":0.95},{"x":1025.0,"y":0.92},{"x":1025.0,"y":0.88},
{"x":1026.5,"y":1.0},{"x":1026.5,"y":0.96},{"x":1026.5,"y":0.93},{"x":1026.5,"y":0.89},{"x":1026.5,"y":0.86},
{"x":1028.0,"y":0.98},{"x":1028.0,"y":0.94},{"x":1028.0,"y":0.9},{"x":1028.0,"y":0.87}]
},
"columns":2,
"spacing":{"row":83,"column":228},
"bounds":"flush",
"resolve":{"scale":{"shape":"independent","strokeDash":"independent","x":"independent","y":"independent"},"legend":{"shape":"independent","strokeDash":"independent"}},
"concat":[
{"title":"Relative EAS Intensity Dependence of Barometric Pressure in LAAS","width":329,"height":207,
"layer":[
{"data":{"name":"d1"},"mark":{"type":"point","filled":false,"stroke":"black","strokeWidth":1.2,"opacity":1,"size":42},
"encoding":{"x":{"field":"x","type":"quantitative","scale":{"domain":[985,1040],"nice":false,"zero":false},"axis":{"orient":"bottom","title":"Barometric pressure[hPa]","values":[990,1000,1010,1020,1030,1040],"format":"d","titlePadding":7}},
"y":{"field":"y","type":"quantitative","scale":{"domain":[0.75,1.35],"nice":false,"zero":false},"axis":{"orient":"left","title":"Relative Intensity","values":[0.8,0.9,1,1.1,1.2,1.3],"format":"~g"}},
"shape":{"datum":"OUS1","type":"nominal","scale":{"range":["M-1,0H1M0,-1V1"]},"legend":{"title":null,"orient":"none","legendX":289,"legendY":7,"labelAlign":"right","labelOffset":-36,"symbolSize":42}}}},
{"data":{"name":"f1"},"mark":{"type":"line","stroke":"black","strokeWidth":1},
"encoding":{"x":{"field":"x","type":"quantitative","axis":{"orient":"top","labels":false,"title":null,"values":[990,1000,1010,1020,1030,1040]}},
"y":{"field":"y","type":"quantitative","axis":{"orient":"right","labels":false,"title":null,"values":[0.8,0.9,1,1.1,1.2,1.3]}},
"strokeDash":{"datum":"-0.43%/hPa","type":"nominal","scale":{"range":[[3,2]]},"legend":{"title":null,"orient":"none","legendX":272,"legendY":6.5,"labelAlign":"right","labelOffset":-45,"symbolType":"stroke","symbolSize":1681,"symbolStrokeWidth":1}}}}
],"resolve":{"axis":{"x":"independent","y":"independent"}}},
{"title":"Relative EAS Intensity Dependence of Barometric Pressure in LAAS","width":329,"height":207,
"layer":[
{"data":{"name":"d2"},"mark":{"type":"point","filled":false,"stroke":"black","strokeWidth":1.2,"opacity":1,"size":42},
"encoding":{"x":{"field":"x","type":"quantitative","scale":{"domain":[985,1040],"nice":false,"zero":false},"axis":{"orient":"bottom","title":"Barometric pressure[hPa]","values":[990,1000,1010,1020,1030,1040],"format":"d","titlePadding":7}},
"y":{"field":"y","type":"quantitative","scale":{"domain":[0.75,1.35],"nice":false,"zero":false},"axis":{"orient":"left","title":"Relative Intensity","values":[0.8,0.9,1,1.1,1.2,1.3],"format":"~g"}},
"shape":{"datum":"OU","type":"nominal","scale":{"range":["M-1,0H1M0,-1V1"]},"legend":{"title":null,"orient":"none","legendX":289,"legendY":7,"labelAlign":"right","labelOffset":-36,"symbolSize":42}}}},
{"data":{"name":"f2"},"mark":{"type":"line","stroke":"black","strokeWidth":1},
"encoding":{"x":{"field":"x","type":"quantitative","axis":{"orient":"top","labels":false,"title":null,"values":[990,1000,1010,1020,1030,1040]}},
"y":{"field":"y","type":"quantitative","axis":{"orient":"right","labels":false,"title":null,"values":[0.8,0.9,1,1.1,1.2,1.3]}},
"strokeDash":{"datum":"-0.53%/hPa","type":"nominal","scale":{"range":[[3,2]]},"legend":{"title":null,"orient":"none","legendX":272,"legendY":6.5,"labelAlign":"right","labelOffset":-45,"symbolType":"stroke","symbolSize":1681,"symbolStrokeWidth":1}}}}
],"resolve":{"axis":{"x":"independent","y":"independent"}}},
{"title":"Relative EAS Intensity Dependence of Barometric Pressure in LAAS","width":329,"height":207,
"layer":[
{"data":{"name":"d3"},"mark":{"type":"point","filled":false,"stroke":"black","strokeWidth":1.2,"opacity":1,"size":42},
"encoding":{"x":{"field":"x","type":"quantitative","scale":{"domain":[985,1040],"nice":false,"zero":false},"axis":{"orient":"bottom","title":"Barometric pressure[hPa]","values":[990,1000,1010,1020,1030,1040],"format":"d","titlePadding":4}},
"y":{"field":"y","type":"quantitative","scale":{"domain":[0.75,1.35],"nice":false,"zero":false},"axis":{"orient":"left","title":"Relative Intensity","values":[0.8,0.9,1,1.1,1.2,1.3],"format":"~g"}},
"shape":{"datum":"HU","type":"nominal","scale":{"range":["M-1,0H1M0,-1V1"]},"legend":{"title":null,"orient":"none","legendX":289,"legendY":7,"labelAlign":"right","labelOffset":-36,"symbolSize":42}}}},
{"data":{"name":"f3"},"mark":{"type":"line","stroke":"black","strokeWidth":1},
"encoding":{"x":{"field":"x","type":"quantitative","axis":{"orient":"top","labels":false,"title":null,"values":[990,1000,1010,1020,1030,1040]}},
"y":{"field":"y","type":"quantitative","axis":{"orient":"right","labels":false,"title":null,"values":[0.8,0.9,1,1.1,1.2,1.3]}},
"strokeDash":{"datum":"-0.75%/hPa","type":"nominal","scale":{"range":[[3,2]]},"legend":{"title":null,"orient":"none","legendX":272,"legendY":6.5,"labelAlign":"right","labelOffset":-45,"symbolType":"stroke","symbolSize":1681,"symbolStrokeWidth":1}}}}
],"resolve":{"axis":{"x":"independent","y":"independent"}}},
{"title":"Relative EAS Intensity Dependence of Barometric Pressure in LAAS","width":329,"height":207,
"layer":[
{"data":{"name":"d4"},"mark":{"type":"point","filled":false,"stroke":"black","strokeWidth":1.2,"opacity":1,"size":42},
"encoding":{"x":{"field":"x","type":"quantitative","scale":{"domain":[985,1040],"nice":false,"zero":false},"axis":{"orient":"bottom","title":"Barometric pressure[hPa]","values":[990,1000,1010,1020,1030,1040],"format":"d","titlePadding":4}},
"y":{"field":"y","type":"quantitative","scale":{"domain":[0.75,1.35],"nice":false,"zero":false},"axis":{"orient":"left","title":"Relative Intensity","values":[0.8,0.9,1,1.1,1.2,1.3],"format":"~g"}},
"shape":{"datum":"KU","type":"nominal","scale":{"range":["M-1,0H1M0,-1V1"]},"legend":{"title":null,"orient":"none","legendX":289,"legendY":7,"labelAlign":"right","labelOffset":-36,"symbolSize":42}}}},
{"data":{"name":"f4"},"mark":{"type":"line","stroke":"black","strokeWidth":1},
"encoding":{"x":{"field":"x","type":"quantitative","axis":{"orient":"top","labels":false,"title":null,"values":[990,1000,1010,1020,1030,1040]}},
"y":{"field":"y","type":"quantitative","axis":{"orient":"right","labels":false,"title":null,"values":[0.8,0.9,1,1.1,1.2,1.3]}},
"strokeDash":{"datum":"-0.59%/hPa","type":"nominal","scale":{"range":[[3,2]]},"legend":{"title":null,"orient":"none","legendX":272,"legendY":6.5,"labelAlign":"right","labelOffset":-45,"symbolType":"stroke","symbolSize":1681,"symbolStrokeWidth":1}}}}
],"resolve":{"axis":{"x":"independent","y":"independent"}}}
],
"config":{
"font":"Liberation Sans",
"view":{"stroke":"black","strokeWidth":1},
"axis":{"grid":false,"domain":false,"ticks":true,"tickColor":"black","tickSize":-5,"tickWidth":1,"labelFont":"Liberation Sans","labelFontSize":11,"labelColor":"black","labelFlush":false,"titleFont":"Liberation Sans","titleFontSize":12.4,"titleFontWeight":"normal","titleColor":"black"},
"axisX":{"labelPadding":13},
"axisY":{"labelPadding":12,"labelAlign":"right","titlePadding":15},
"title":{"font":"Liberation Sans","fontSize":13,"fontWeight":"normal","color":"black","anchor":"middle","offset":11},
"legend":{"labelFont":"Liberation Sans","labelFontSize":12.5,"labelColor":"black","symbolStrokeColor":"black","symbolStrokeWidth":1.2,"symbolFillColor":"transparent","symbolOpacity":1,"padding":0}
}
}
